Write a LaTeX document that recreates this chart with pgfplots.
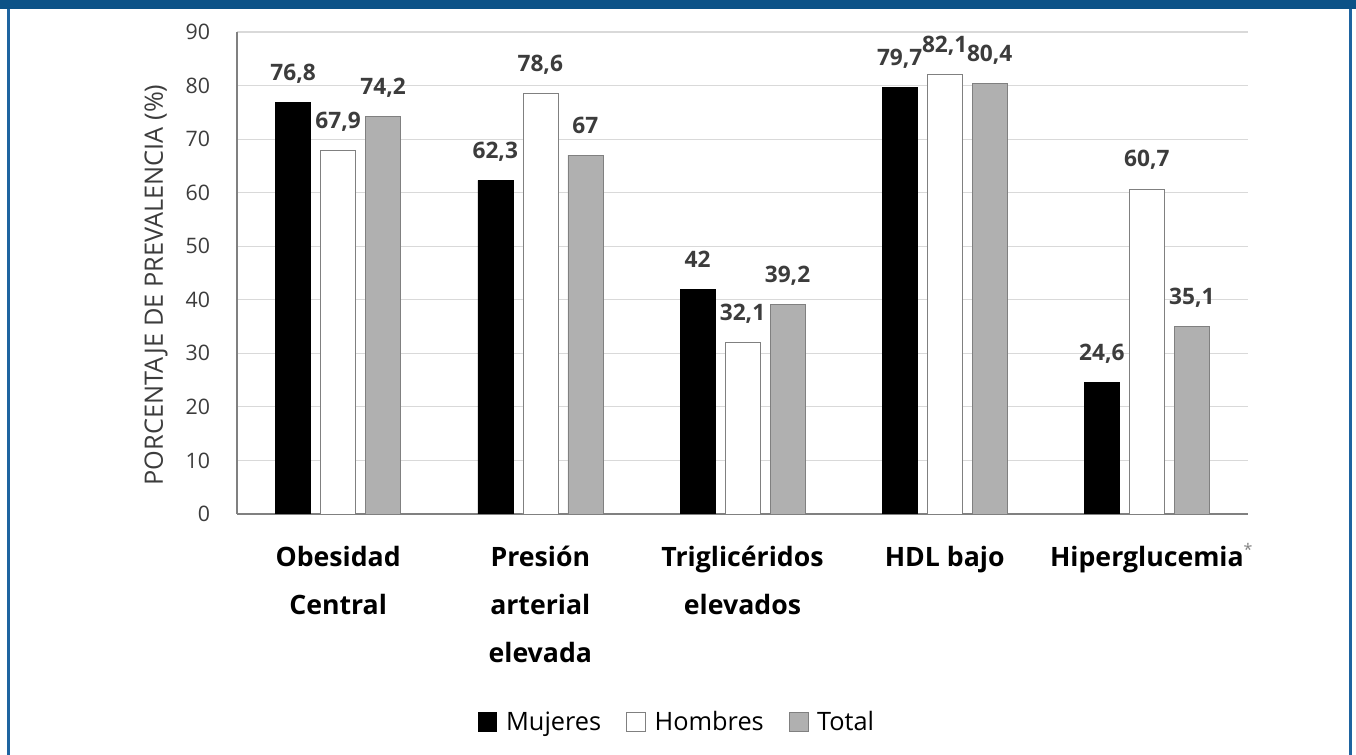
\documentclass[border=0pt]{standalone}
\usepackage{fontspec}
\setmainfont{Open Sans}
\usepackage{pgfplots}
\pgfplotsset{compat=1.18}
\definecolor{framebl}{RGB}{12,82,135}
\definecolor{framebl2}{RGB}{30,100,160}
\definecolor{gridc}{RGB}{217,217,217}
\definecolor{axc}{RGB}{128,128,128}
\definecolor{totc}{RGB}{176,176,176}
\definecolor{txt}{RGB}{60,60,60}
\begin{document}
\begin{tikzpicture}[x=0.75pt,y=0.75pt]
\fill[white] (-237,-241) rectangle (1119,514);
\path[use as bounding box] (-237,-241) rectangle (1119,514);
\fill[framebl] (-237,505) rectangle (1119,514);
\fill[framebl2] (-230,-241) rectangle (-227,505);
\fill[framebl2] (1112,-241) rectangle (1115,505);
\begin{axis}[
  at={(0,0)}, anchor=south west,
  scale only axis, width=758.25pt, height=361.5pt,
  xmin=-0.5, xmax=4.5, ymin=0, ymax=90,
  ybar=7.5pt, bar width=26.25pt,
  xtick={0,1,2,3,4},
  xticklabels={{Obesidad\\Central},{Presión\\arterial\\elevada},{Triglicéridos\\elevados},{HDL bajo},{Hiperglucemia\rlap{\smash{\raisebox{0.75ex}{\normalfont\fontsize{12}{12}\selectfont\color{axc}*}}}}},
  ytick={0,10,...,90},
  ymajorgrids, grid style={gridc, line width=0.9pt},
  axis x line*=bottom, axis y line*=left,
  axis line style={axc, line width=1.3pt, -},
  major tick length=0pt,
  /pgf/number format/.cd, use comma, assume math mode=true, /pgfplots/.cd,
  x tick label style={font=\fontsize{20}{36}\selectfont\bfseries, align=center, anchor=north, inner sep=0pt, yshift=-24pt},
  y tick label style={font=\fontsize{16}{18}\selectfont, color=txt, anchor=east, inner sep=0pt, xshift=-20pt},
  ylabel={PORCENTAJE DE PREVALENCIA (\%)},
  ylabel style={font=\fontsize{19}{22}\selectfont, color=txt, at={(axis description cs:-0.080,0.475)}, anchor=center},
  nodes near coords,
  every node near coord/.append style={font=\fontsize{17}{20}\selectfont\bfseries, color=txt, anchor=base, inner sep=0pt, yshift=16.5pt},
  legend style={at={(rel axis cs:0.435,-0.4315)}, anchor=center, draw=none, legend columns=-1,
    font=\fontsize{19}{21}\selectfont,
    /tikz/every even column/.append style={column sep=16pt}},
  legend image code/.code={\draw[#1] (0pt,-7pt) rectangle (14pt,7pt); \path[draw=none,fill=none] (-1pt,0pt) -- (19pt,0pt);},
]
\addplot[fill=black, draw=black] coordinates {(0,76.8) (1,62.3) (2,42) (3,79.7) (4,24.6)};
\addplot[fill=white, draw=axc] coordinates {(0,67.9) (1,78.6) (2,32.1) (3,82.1) (4,60.7)};
\addplot[fill=totc, draw=axc] coordinates {(0,74.2) (1,67) (2,39.2) (3,80.4) (4,35.1)};
\legend{Mujeres,Hombres,Total}
\end{axis}
\end{tikzpicture}
\end{document}
